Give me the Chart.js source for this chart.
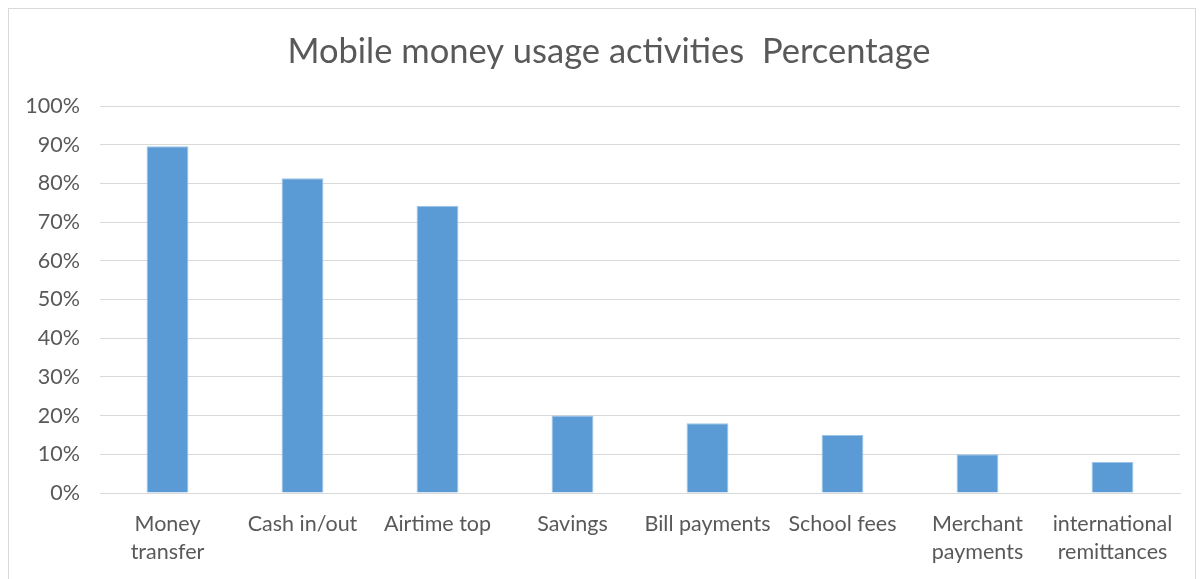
<!DOCTYPE html>
<html>
<head>
<meta charset="utf-8">
<script src="https://cdn.jsdelivr.net/npm/chart.js@4/dist/chart.umd.min.js"></script>
<style>
  html, body { margin: 0; padding: 0; background: #fff; }
  #wrap { width: 1202px; height: 579px; }
</style>
</head>
<body>
<div id="wrap"><canvas id="barChart" width="1202" height="579"></canvas></div>
<script>
var activities = [
    ['Money', 'transfer'], 'Cash in/out', 'Airtime top', 'Savings',
    'Bill payments', 'School fees', ['Merchant', 'payments'], ['international', 'remittances']
];
var usagePct = [89.6, 81.3, 74.2, 20, 18, 15, 10, 8];
var pctTicks = [0, 10, 20, 30, 40, 50, 60, 70, 80, 90, 100];
var chartTitle = 'Mobile money usage activities  Percentage';

var textColor = '#595959';
var gridColor = '#d9d9d9';
var fontFamily = 'Lato, "Liberation Sans", sans-serif';

// outer frame plus a title centred on the frame rather than the plot
var framePlugin = {
    id: 'frame',
    beforeDraw: function (chart) {
        var c = chart.ctx;
        c.save();
        c.fillStyle = '#fff';
        c.fillRect(0, 0, chart.width, chart.height);
        c.strokeStyle = gridColor;
        c.lineWidth = 1;
        c.strokeRect(8.5, 8.5, 1187, 620);
        c.fillStyle = textColor;
        c.font = '34.5px ' + fontFamily;
        c.textAlign = 'center';
        c.textBaseline = 'middle';
        c.fillText(chartTitle, 609, 52);
        c.restore();
    }
};

var ctx = document.getElementById('barChart').getContext('2d');
var barChart = new Chart(ctx, {
    type: 'bar',
    data: {
        labels: activities,
        datasets: [{
            label: 'Percentage',
            data: usagePct,
            backgroundColor: '#5b9bd5',
            borderColor: '#9dc3e6',
            borderWidth: 1,
            barPercentage: 0.31,
            categoryPercentage: 1
        }]
    },
    options: {
        responsive: false,
        animation: false,
        layout: { padding: { left: 0, right: 22, top: 106, bottom: 0 } },
        plugins: {
            legend: { display: false },
            tooltip: { enabled: false },
            title: { display: false }
        },
        scales: {
            x: {
                grid: { display: false, drawTicks: false },
                border: { color: gridColor, width: 1 },
                ticks: {
                    color: textColor,
                    padding: 17,
                    maxRotation: 0,
                    autoSkip: false,
                    font: { family: fontFamily, size: 21.5, lineHeight: 1.3 }
                },
                afterFit: function (scale) { scale.height = 86; }
            },
            y: {
                min: 0,
                max: 100,
                afterBuildTicks: function (scale) {
                    scale.ticks = pctTicks.map(function (v) { return { value: v }; });
                },
                grid: { color: gridColor, drawTicks: false },
                border: { display: false },
                ticks: {
                    color: textColor,
                    padding: 20,
                    font: { family: fontFamily, size: 21.5 },
                    callback: function (v) { return v + '%'; }
                },
                afterFit: function (scale) { scale.width = 100; }
            }
        }
    },
    plugins: [framePlugin]
});
</script>
</body>
</html>
